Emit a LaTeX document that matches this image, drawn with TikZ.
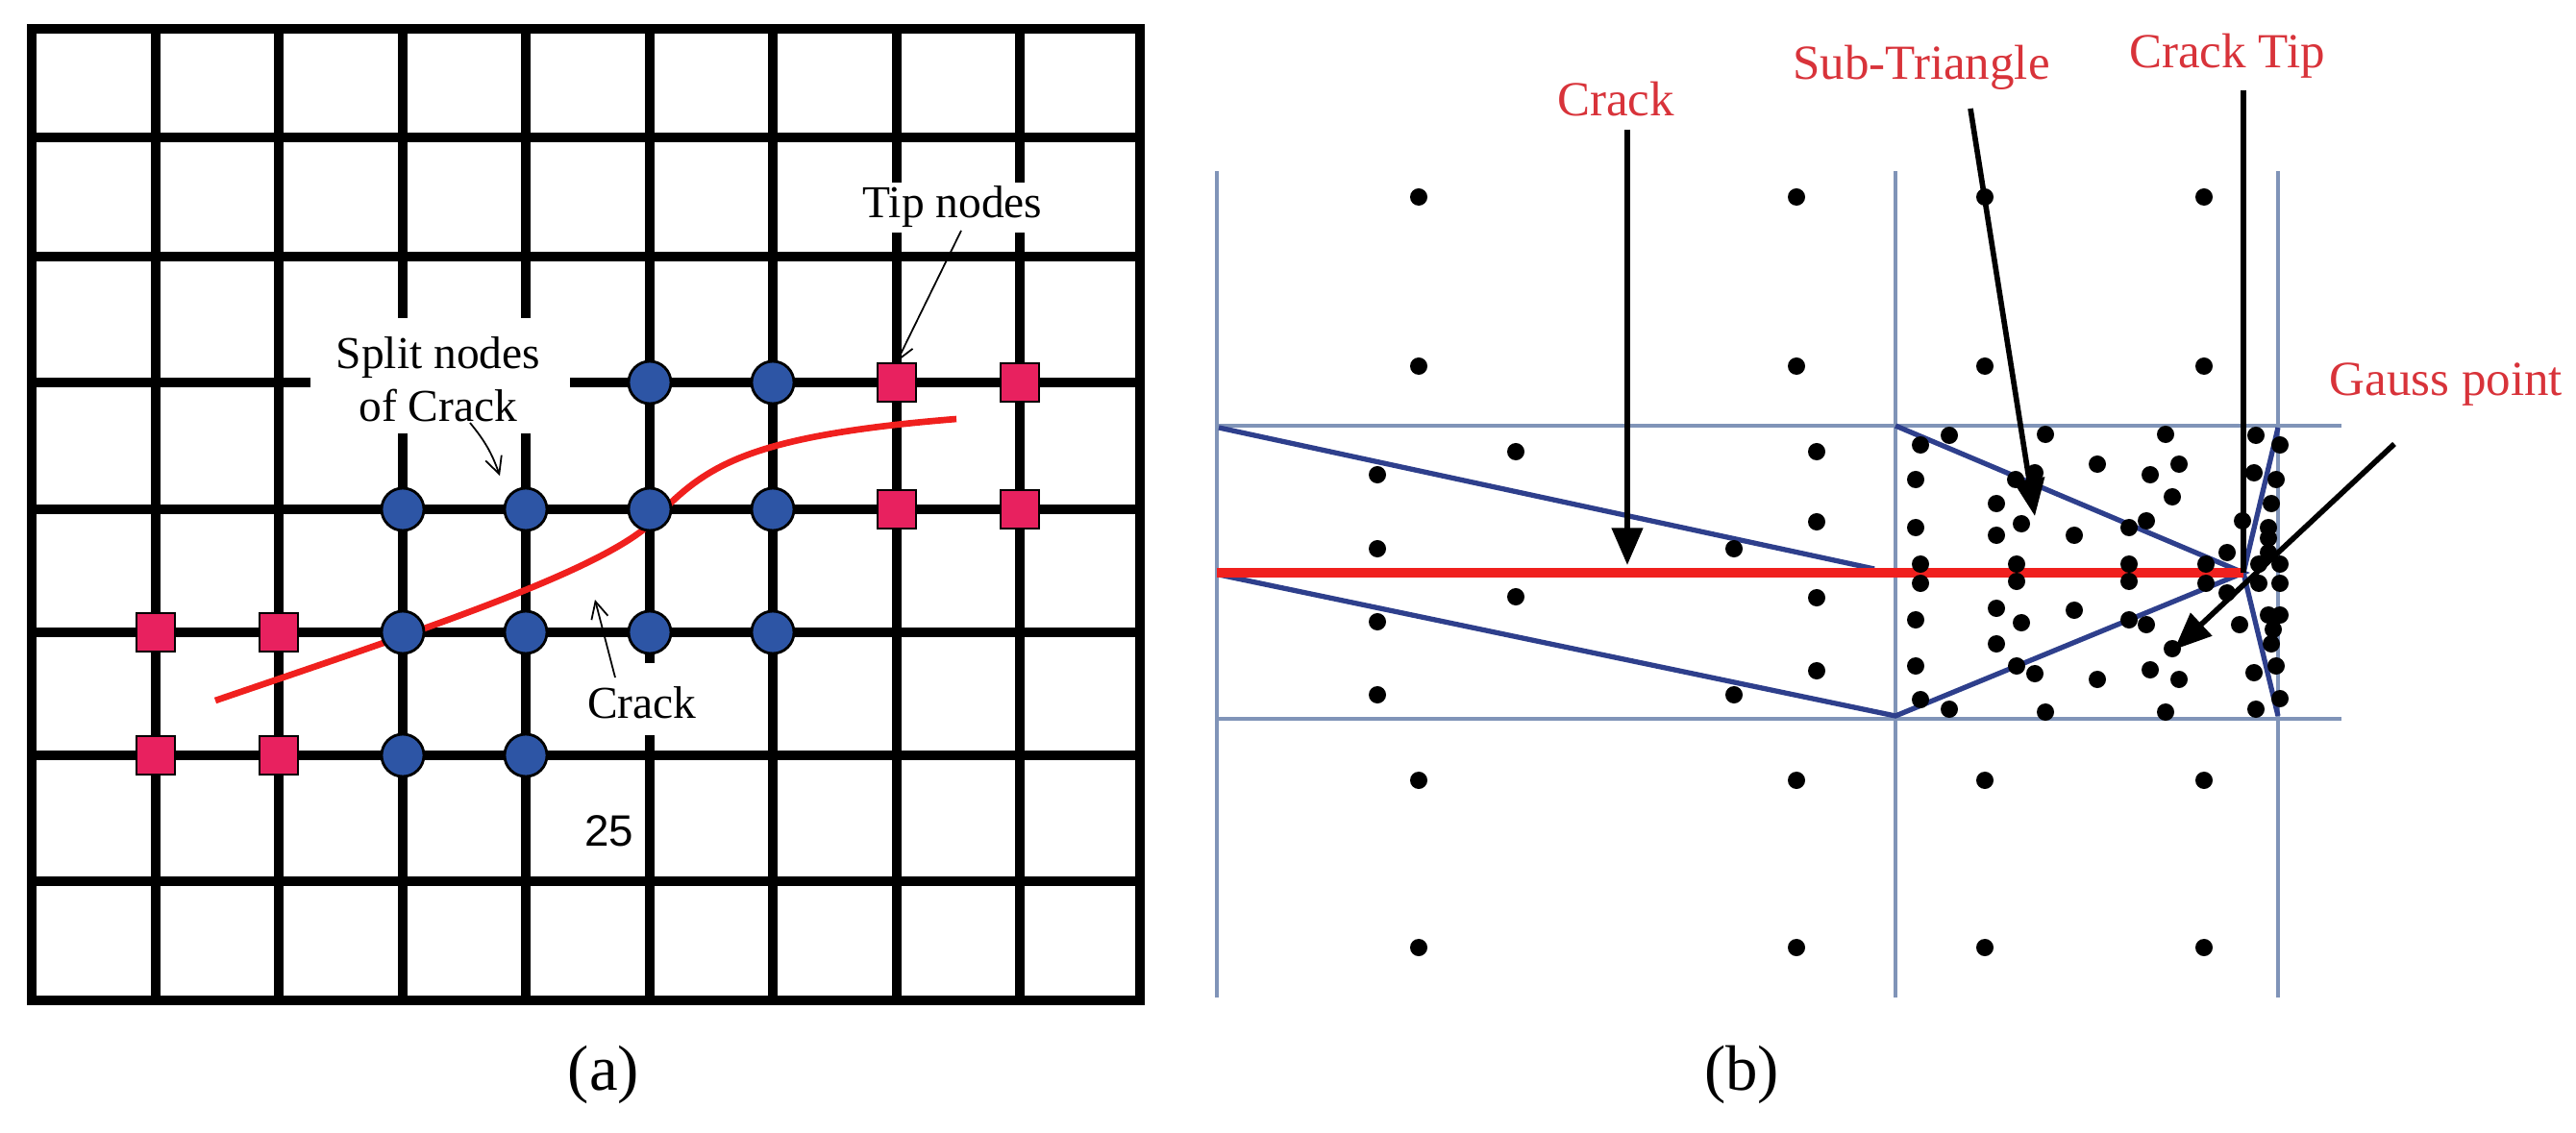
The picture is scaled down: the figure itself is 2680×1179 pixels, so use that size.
\documentclass[tikz,border=0pt]{standalone}
\usepackage{fontspec}
\setmainfont{Liberation Serif}
\newfontfamily\sansf{Liberation Sans}
\usetikzlibrary{arrows.meta}
\definecolor{nblue}{HTML}{2D55A5}
\definecolor{npink}{HTML}{E8215F}
\definecolor{cred}{HTML}{F0201E}
\definecolor{lred}{HTML}{D8333A}
\definecolor{thinb}{HTML}{8094B8}
\definecolor{darkb}{HTML}{2E3F8C}
\tikzset{
 gridl/.style={line width=2.8pt,black},
 splitnode/.style={circle,fill=nblue,draw=black,line width=0.8pt,minimum size=0.44cm,inner sep=0pt},
 tipnode/.style={rectangle,fill=npink,draw=black,line width=0.8pt,minimum size=0.40cm,inner sep=0pt},
 lbl/.style={font=\fontsize{13.5}{15.5}\selectfont,inner sep=1pt,align=center},
 rlbl/.style={font=\fontsize{14.5}{16}\selectfont,text=lred,inner sep=1pt},
 thinarr/.style={-{Straight Barb[length=5pt,width=5pt]},line width=0.5pt},
 blkarr/.style={-{Triangle[length=11pt,width=9pt]},line width=1.6pt},
 gp/.style={circle,fill=black,inner sep=0pt,minimum size=0.18cm},
 thinl/.style={thinb,line width=0.9pt},
 darkl/.style={darkb,line width=1.5pt}
}
\begin{document}
\begin{tikzpicture}[x=0.01cm,y=-0.01cm]
\useasboundingbox (0,0) rectangle (2680,1179);
% ---------- (a) grid ----------
\foreach \x in {162,290,419,547,676,804,933,1061}
  \draw[gridl] (\x,30) -- (\x,1041);
\foreach \y in {143,267,398,530,658,786,917}
  \draw[gridl] (33,\y) -- (1186,\y);
\draw[gridl] (33,30) rectangle (1186,1041);
% gaps for labels
\fill[white] (323,331) rectangle (593,451);
\fill[white] (610,690) rectangle (730,765);
\fill[white] (895,190) rectangle (1090,242);
\node[lbl] (split) at (456,395) {Split nodes\\of Crack};
\node[lbl] (cracka) at (668,731) {Crack};
\node[lbl] (tipl) at (991,215) {Tip nodes};
\node[font=\sansf\fontsize{13}{15}\selectfont] (n25) at (634,865) {25};
% crack
\draw[cred,line width=1.9pt] (224,729) .. controls (420,662) and (610,600) .. (672,549)
  .. controls (730,490) and (760,455) .. (995,436);
% split nodes
\node[splitnode] (c1) at (676,398) {};
\node[splitnode] (c2) at (804,398) {};
\node[splitnode] (c3) at (419,530) {};
\node[splitnode] (c4) at (547,530) {};
\node[splitnode] (c5) at (676,530) {};
\node[splitnode] (c6) at (804,530) {};
\node[splitnode] (c7) at (419,658) {};
\node[splitnode] (c8) at (547,658) {};
\node[splitnode] (c9) at (676,658) {};
\node[splitnode] (c10) at (804,658) {};
\node[splitnode] (c11) at (419,786) {};
\node[splitnode] (c12) at (547,786) {};
% tip nodes
\node[tipnode] (t1) at (933,398) {};
\node[tipnode] (t2) at (1061,398) {};
\node[tipnode] (t3) at (933,530) {};
\node[tipnode] (t4) at (1061,530) {};
\node[tipnode] (t5) at (162,658) {};
\node[tipnode] (t6) at (290,658) {};
\node[tipnode] (t7) at (162,786) {};
\node[tipnode] (t8) at (290,786) {};
% label arrows
\coordinate (sa) at (489,440);
\coordinate (sb) at (520,495);
\draw[thinarr] (sa) to[bend left=10] (sb);
\coordinate (ca) at (640,705);
\coordinate (cb) at (619,624);
\draw[thinarr] (ca) -- (cb);
\coordinate (ta) at (1000,240);
\draw[thinarr] (ta) -- (t1.north);
\node[font=\fontsize{19}{22}\selectfont] (capa) at (628,1118) {(a)};
% ---------- (b) ----------
\draw[thinl] (1266,178) -- (1266,1038);
\draw[thinl] (1972,178) -- (1972,1038);
\draw[thinl] (2370,178) -- (2370,1038);
\draw[thinl] (1266,443) -- (2436,443);
\draw[thinl] (1266,748) -- (2436,748);
\coordinate (tip) at (2334,596);
\draw[darkl] (1268,445) -- (1950,592);
\draw[darkl] (1268,598) -- (1972,745) -- (tip) -- (1972,443);
\draw[darkl] (2370,445) -- (tip) -- (2370,745);
\draw[cred,line width=2.6pt] (1266,596) -- (tip);
% gauss points
\foreach \p in {(1476,205),(1869,205),(2065,205),(2293,205),
 (1476,381),(1869,381),(2065,381),(2293,381),
 (1476,812),(1869,812),(2065,812),(2293,812),
 (1476,986),(1869,986),(2065,986),(2293,986),
 (1433,494),(1577,470),(1433,571),(1804,571),(1890,470),(1890,543),
 (1433,647),(1577,621),(1433,723),(1804,723),(1890,622),(1890,698),
 (2028,453),(1998,463),(2128,452),(2253,452),(2347,453),(2372,463),
 (1993,499),(2097,499),(2117,492),(2182,483),(2237,494),(2267,483),(2345,492),(2368,499),
 (2077,524),(2260,517),(2363,524),
 (1993,549),(2103,545),(2077,557),(2158,557),(2215,549),(2233,542),(2333,542),(2360,549),(2317,575),
 (1998,587),(1998,607),(2098,587),(2098,605),(2215,587),(2215,605),(2295,587),(2295,607),
 (2350,587),(2372,587),(2350,607),(2372,607),(2360,560),(2372,640),(2360,575),
 (1993,645),(2077,633),(2103,648),(2158,635),(2215,645),(2233,650),(2330,650),(2360,640),(2317,617),
 (2077,670),(2260,675),(2363,670),(2365,655),
 (1993,693),(2098,693),(2117,701),(2182,707),(2237,697),(2267,707),(2345,700),(2368,693),
 (1998,728),(2028,738),(2128,741),(2253,741),(2347,738),(2372,727)}
  \node[gp] at \p {};
% labels
\node[rlbl] (lcrack) at (1681,103) {Crack};
\node[rlbl] (lsub) at (1999,70) {Sub-Triangle};
\node[rlbl] (ltip) at (2317,58) {Crack Tip};
\node[rlbl] (lgauss) at (2545,400) {Gauss point};
\coordinate (cr1) at (1693,135);
\coordinate (cr2) at (1693,588);
\draw[blkarr] (cr1) -- (cr2);
\coordinate (st1) at (2050,113);
\coordinate (st2) at (2117,537);
\draw[blkarr] (st1) -- (st2);
\coordinate (ct1) at (2334,94);
\draw[line width=1.6pt] (ct1) -- (tip);
\coordinate (g1) at (2491,462);
\coordinate (g2) at (2262,676);
\draw[blkarr] (g1) -- (g2);
\node[font=\fontsize{19}{22}\selectfont] (capb) at (1812,1118) {(b)};
\end{tikzpicture}
\end{document}
